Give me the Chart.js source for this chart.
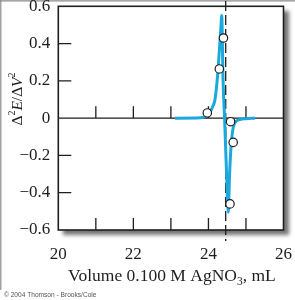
<!DOCTYPE html>
<html>
<head>
<meta charset="utf-8">
<script src="https://cdn.jsdelivr.net/npm/chart.js@4"></script>
<style>
html,body{margin:0;padding:0;background:#fff;}
#wrap{width:295px;height:300px;position:relative;}
</style>
</head>
<body>
<div id="wrap"><canvas id="c" width="295" height="300"></canvas></div>
<script>
// Smooth second-derivative curve
const curveX = [23.11, 23.8, 23.95, 24.05, 24.12, 24.175, 24.24, 24.29, 24.33, 24.354, 24.39, 24.43, 24.48, 24.53, 24.56, 24.59, 24.62, 24.66, 24.72, 24.84, 25.0, 25.24];
const curveY = [0, 0.002, 0.012, 0.035, 0.065, 0.1, 0.22, 0.36, 0.48, 0.55, 0.2, 0, -0.28, -0.505, -0.32, -0.19, -0.11, -0.05, -0.02, -0.008, -0.003, 0];
// Experimental points (open circles)
const pointX = [23.97, 24.29, 24.40, 24.59, 24.66, 24.575];
const pointY = [0.028, 0.264, 0.43, -0.019, -0.13, -0.46];
// End point (dashed line)
const endPoint = 24.46;
// Axes
const xTicks = [20, 22, 24, 26];
const xTickLabels = ['20', '22', '24', '26'];
const xMinorTicks = [21, 22, 23, 24, 25];
const yTicks = [-0.6, -0.4, -0.2, 0, 0.2, 0.4, 0.6];
const yTickLabels = ['\u22120.6', '\u22120.4', '\u22120.2', '0', '0.2', '0.4', '0.6'];
const yInnerTicks = [-0.4, -0.2, 0.2, 0.4];
const xTitleMain = 'Volume 0.100 M AgNO';
const xTitleSub = '3';
const xTitleEnd = ', mL';
const credit = '\u00A9 2004 Thomson - Brooks/Cole';

const SERIF = '"Liberation Serif", "Times New Roman", serif';
const CYAN = '#1ba9dd';
const INK = '#1e1e1e';

const decor = {
  id: 'decor',
  beforeDraw(chart) {
    const ctx = chart.ctx, a = chart.chartArea;
    ctx.save();
    ctx.strokeStyle = '#8a8a8a';
    ctx.lineWidth = 1.2;
    ctx.beginPath();
    ctx.moveTo(0, 0.8); ctx.lineTo(295, 0.8);
    ctx.moveTo(0.8, 0); ctx.lineTo(0.8, 290);
    ctx.stroke();
    ctx.shadowColor = 'rgba(0,0,0,0.55)';
    ctx.shadowBlur = 4;
    ctx.shadowOffsetX = 5;
    ctx.shadowOffsetY = 5;
    ctx.fillStyle = '#fff';
    ctx.fillRect(a.left, a.top, a.right - a.left, a.bottom - a.top);
    ctx.restore();
  },
  beforeDatasetsDraw(chart) {
    const ctx = chart.ctx, a = chart.chartArea;
    const xs = chart.scales.x, ys = chart.scales.y;
    ctx.save();
    ctx.strokeStyle = INK;
    ctx.lineWidth = 1.3;
    const y0 = ys.getPixelForValue(0);
    ctx.beginPath();
    ctx.moveTo(a.left, y0); ctx.lineTo(a.right, y0);
    xMinorTicks.forEach(v => {
      const px = xs.getPixelForValue(v);
      ctx.moveTo(px, y0); ctx.lineTo(px, y0 - 12);
      ctx.moveTo(px, a.bottom); ctx.lineTo(px, a.bottom - 12);
    });
    yInnerTicks.forEach(v => {
      const py = ys.getPixelForValue(v);
      ctx.moveTo(a.left, py); ctx.lineTo(a.left + 13, py);
    });
    ctx.stroke();
    const ex = xs.getPixelForValue(endPoint);
    ctx.setLineDash([10, 4]);
    ctx.lineWidth = 1.3;
    ctx.beginPath();
    ctx.moveTo(ex, 1); ctx.lineTo(ex, a.bottom + 11);
    ctx.stroke();
    ctx.restore();
  },
  afterDraw(chart) {
    const ctx = chart.ctx, a = chart.chartArea;
    ctx.save();
    ctx.strokeStyle = INK;
    ctx.lineWidth = 1.6;
    ctx.strokeRect(a.left, a.top, a.right - a.left, a.bottom - a.top);
    ctx.fillStyle = INK;
    ctx.textBaseline = 'alphabetic';
    const f1 = '17.5px ' + SERIF, f2 = '11.5px ' + SERIF;
    ctx.font = f1;
    const w1 = ctx.measureText(xTitleMain).width;
    const w3 = ctx.measureText(xTitleEnd).width;
    ctx.font = f2;
    const w2 = ctx.measureText(xTitleSub).width;
    const total = w1 + w2 + w3;
    let x = (a.left + a.right) / 2 - total / 2 + 1;
    const by = 281;
    ctx.font = f1; ctx.textAlign = 'left';
    ctx.fillText(xTitleMain, x, by); x += w1;
    ctx.font = f2; ctx.fillText(xTitleSub, x, by + 4); x += w2;
    ctx.font = f1; ctx.fillText(xTitleEnd, x, by);
    ctx.translate(21.5, 99);
    ctx.rotate(-Math.PI / 2);
    const parts = [
      {t: '\u0394', f: '15.5px ' + SERIF, dy: 0},
      {t: '2', f: '10px ' + SERIF, dy: -7},
      {t: 'E', f: 'italic 15.5px ' + SERIF, dy: 0},
      {t: '/', f: '15.5px ' + SERIF, dy: 0},
      {t: '\u0394', f: '15.5px ' + SERIF, dy: 0},
      {t: 'V', f: 'italic 15.5px ' + SERIF, dy: 0},
      {t: '2', f: '10px ' + SERIF, dy: -7}
    ];
    let tw = 0;
    parts.forEach(p => { ctx.font = p.f; p.w = ctx.measureText(p.t).width; tw += p.w; });
    let px = -tw / 2;
    parts.forEach(p => { ctx.font = p.f; ctx.fillText(p.t, px, p.dy); px += p.w; });
    ctx.restore();
    ctx.save();
    ctx.fillStyle = '#555';
    ctx.font = '6.6px "Liberation Sans", Arial, sans-serif';
    ctx.textAlign = 'left';
    ctx.textBaseline = 'alphabetic';
    ctx.fillText(credit, 4, 296.5);
    ctx.restore();
  }
};

new Chart(document.getElementById('c'), {
  type: 'scatter',
  data: {
    datasets: [
      {
        type: 'line',
        data: curveX.map((v, i) => ({x: v, y: curveY[i]})),
        borderColor: CYAN,
        borderWidth: 3,
        pointRadius: 0,
        fill: false,
        cubicInterpolationMode: 'monotone',
        order: 2
      },
      {
        data: pointX.map((v, i) => ({x: v, y: pointY[i]})),
        pointRadius: 4.2,
        pointBackgroundColor: '#fff',
        pointBorderColor: INK,
        pointBorderWidth: 1.2,
        order: 1
      }
    ]
  },
  options: {
    responsive: false,
    animation: false,
    events: [],
    layout: {padding: {left: 0, right: 11.5, top: 6.3, bottom: 0}},
    plugins: {legend: {display: false}, tooltip: {enabled: false}},
    scales: {
      x: {
        type: 'linear', min: 20, max: 26,
        afterFit(s) { s.height = 70; s.paddingLeft = 0; s.paddingRight = 0; },
        afterBuildTicks(s) { s.ticks = xTicks.map(v => ({value: v})); },
        grid: {display: false, drawTicks: false},
        border: {display: false},
        ticks: {
          padding: 14,
          color: INK,
          font: {family: SERIF, size: 17},
          callback: (v) => xTickLabels[xTicks.indexOf(v)]
        }
      },
      y: {
        min: -0.6, max: 0.6,
        afterFit(s) { s.width = 58.3; s.paddingTop = 0; s.paddingBottom = 0; },
        afterBuildTicks(s) { s.ticks = yTicks.map(v => ({value: v})); },
        grid: {display: false, drawTicks: false},
        border: {display: false},
        ticks: {
          padding: 8,
          color: INK,
          font: {family: SERIF, size: 17},
          callback: (v) => {
            const i = yTicks.findIndex(t => Math.abs(t - v) < 1e-9);
            return i >= 0 ? yTickLabels[i] : '';
          }
        }
      }
    }
  },
  plugins: [decor]
});
</script>
</body>
</html>
